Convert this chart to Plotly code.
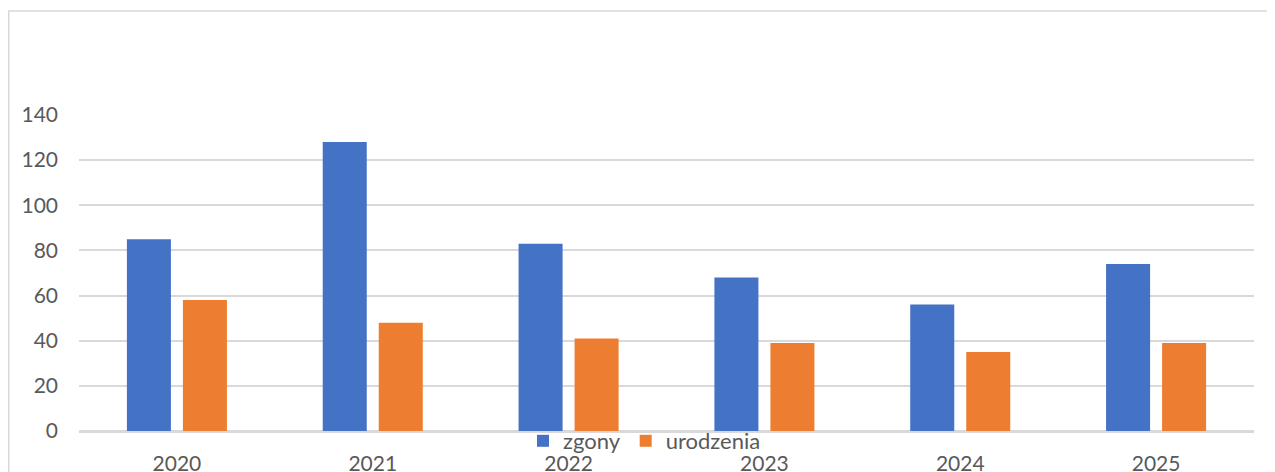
import plotly.graph_objects as go

years = ["2020", "2021", "2022", "2023", "2024", "2025"]
zgony = [85, 128, 83, 68, 56, 74]
urodzenia = [58, 48, 41, 39, 35, 39]

OFF = 8  # default body margin of the page
W, H = 1275 - OFF, 472 - OFF
L, R, T, B = 79 - OFF, 21, 115 - OFF, 41
pw, ph = W - L - R, H - T - B

fig = go.Figure()
fig.add_trace(go.Bar(x=years, y=zgony, name="zgony", marker_color="#4472C4",
                     marker_line_width=0))
fig.add_trace(go.Bar(x=years, y=urodzenia, name="urodzenia", marker_color="#ED7D31",
                     marker_line_width=0))

font = "Lato, 'Open Sans', sans-serif"
fs = 21
fig.update_layout(
    width=W, height=H,
    margin=dict(l=L, r=R, t=T, b=B, pad=0, autoexpand=False),
    paper_bgcolor="white", plot_bgcolor="white",
    barmode="group", bargap=0.428, bargroupgap=0.214,
    font=dict(family=font, size=fs, color="#595959"),
    showlegend=True,
    legend=dict(orientation="h", xref="container", x=(523 - OFF) / W, xanchor="left",
                yref="container", y=1 - (441 - OFF) / H, yanchor="middle",
                font=dict(size=22, color="#595959"),
                bgcolor="rgba(0,0,0,0)", itemwidth=30, tracegroupgap=0),
    xaxis=dict(showgrid=False, showline=True, linecolor="#D9D9D9", linewidth=1.5,
               ticks="", tickfont=dict(size=fs, color="#595959"),
               ticklabelstandoff=13, fixedrange=True),
    yaxis=dict(range=[0, 140], dtick=20, showgrid=True, gridcolor="#D9D9D9",
               gridwidth=1.5, zeroline=True, zerolinecolor="#D9D9D9", zerolinewidth=1.5,
               ticks="", tickfont=dict(size=fs, color="#595959"),
               ticklabelstandoff=20, fixedrange=True),
    shapes=[dict(type="rect", xref="paper", yref="paper",
                 x0=(0.75 - L) / pw, x1=1.1, y0=-0.3, y1=1 + (T - (11 - OFF)) / ph,
                 line=dict(color="#D9D9D9", width=1.5), fillcolor="rgba(0,0,0,0)",
                 layer="below")],
)

fig.write_html("out.html", config={"displayModeBar": False})
